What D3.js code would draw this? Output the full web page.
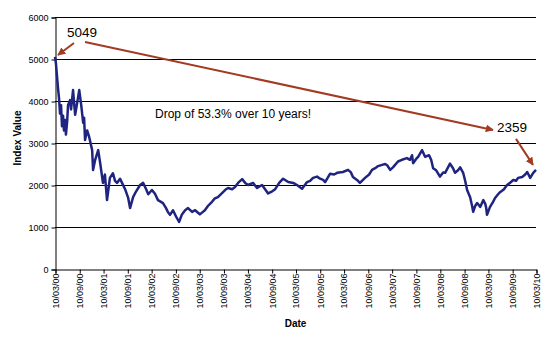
<!DOCTYPE html>
<html><head><meta charset="utf-8">
<script src="https://cdn.jsdelivr.net/npm/d3@7"></script>
<style>body{margin:0;background:#fff}svg{display:block}text{font-family:Arial,"Liberation Sans",sans-serif}</style>
</head><body><svg id="c" width="553" height="341"></svg>
<script>
const dates = ["2000-03-10","2000-03-17","2000-03-25","2000-04-02","2000-04-10","2000-04-17","2000-04-25","2000-05-02","2000-05-10","2000-05-17","2000-05-25","2000-06-01","2000-06-10","2000-06-17","2000-07-02","2000-07-10","2000-07-25","2000-08-10","2000-08-25","2000-09-10","2000-09-25","2000-10-10","2000-10-17","2000-10-24","2000-11-09","2000-11-24","2000-12-17","2000-12-24","2001-01-09","2001-02-01","2001-02-17","2001-03-09","2001-03-24","2001-04-09","2001-05-01","2001-05-24","2001-06-09","2001-06-24","2001-07-17","2001-08-01","2001-08-24","2001-09-16","2001-10-01","2001-10-24","2001-11-16","2001-12-16","2002-01-08","2002-01-31","2002-02-16","2002-03-16","2002-04-08","2002-05-01","2002-06-08","2002-07-01","2002-07-16","2002-07-31","2002-08-23","2002-09-15","2002-10-08","2002-10-30","2002-11-23","2002-12-15","2003-01-15","2003-02-07","2003-03-01","2003-03-15","2003-04-07","2003-04-22","2003-05-15","2003-06-15","2003-07-07","2003-07-30","2003-09-07","2003-09-30","2003-10-15","2003-11-15","2003-12-07","2003-12-30","2004-01-30","2004-02-22","2004-03-15","2004-04-22","2004-05-22","2004-06-29","2004-07-22","2004-08-14","2004-09-14","2004-10-07","2004-11-06","2004-12-06","2005-01-14","2005-02-21","2005-03-21","2005-04-29","2005-06-06","2005-06-29","2005-07-21","2005-08-21","2005-09-13","2005-10-06","2005-10-21","2005-11-28","2005-12-28","2006-01-20","2006-03-05","2006-04-13","2006-05-05","2006-05-20","2006-06-20","2006-07-12","2006-08-20","2006-09-20","2006-10-12","2006-11-05","2006-11-27","2006-12-27","2007-01-20","2007-02-04","2007-02-27","2007-03-20","2007-04-27","2007-05-27","2007-07-04","2007-07-27","2007-08-12","2007-08-20","2007-09-12","2007-09-27","2007-10-27","2007-11-19","2007-12-19","2008-01-04","2008-01-19","2008-02-11","2008-03-11","2008-04-04","2008-04-19","2008-05-11","2008-05-26","2008-06-18","2008-07-03","2008-07-26","2008-08-11","2008-09-03","2008-09-18","2008-10-03","2008-10-26","2008-11-11","2008-11-18","2008-12-03","2008-12-18","2009-01-11","2009-02-03","2009-02-18","2009-02-25","2009-03-03","2009-03-26","2009-04-18","2009-05-03","2009-05-26","2009-06-10","2009-07-10","2009-08-02","2009-08-25","2009-09-18","2009-10-10","2009-10-25","2009-11-25","2009-12-18","2010-01-02","2010-01-25","2010-02-17","2010-03-10"];
const values = [5049,4900,4600,4300,4050,3700,3900,3400,3650,3300,3550,3200,3500,3900,4020,3800,4260,3670,3950,4260,3900,3480,3600,3070,3300,3150,2830,2360,2600,2830,2500,2050,2250,1640,2170,2280,2100,2050,2150,2050,1900,1700,1450,1710,1850,2000,2050,1900,1780,1880,1790,1640,1570,1450,1350,1290,1400,1250,1120,1300,1400,1450,1360,1400,1340,1300,1360,1400,1500,1600,1680,1710,1830,1900,1930,1900,1950,2050,2140,2050,2000,2050,1930,2000,1900,1800,1850,1900,2050,2150,2070,2050,2000,1910,2070,2100,2170,2200,2150,2120,2070,2270,2250,2290,2310,2360,2300,2190,2120,2050,2170,2250,2360,2400,2450,2480,2500,2470,2360,2420,2560,2600,2640,2600,2710,2520,2620,2670,2830,2670,2710,2600,2400,2350,2200,2300,2290,2420,2510,2400,2290,2350,2420,2290,2100,1880,1710,1480,1360,1500,1570,1480,1640,1550,1450,1290,1480,1600,1690,1780,1830,1900,2000,2050,2120,2100,2170,2190,2250,2310,2170,2290,2359];
const tickLabels = ["10/03/00","10/09/00","10/03/01","10/09/01","10/03/02","10/09/02","10/03/03","10/09/03","10/03/04","10/09/04","10/03/05","10/09/05","10/03/06","10/09/06","10/03/07","10/09/07","10/03/08","10/09/08","10/03/09","10/09/09","10/03/10"];
const yTicks = [0,1000,2000,3000,4000,5000,6000];
const startLabel = "5049", endLabel = "2359", note = "Drop of 53.3% over 10 years!";

const svg = d3.select("#c");
const L=55,R=536,T=17,B=269;
const parse = d3.timeParse("%Y-%m-%d");
const tickParse = d3.timeParse("%d/%m/%y");
const tickDates = tickLabels.map(tickParse);
const x = d3.scaleTime().domain([tickDates[0], tickDates[tickDates.length-1]]).range([L,R]);
const y = d3.scaleLinear().domain([0,6000]).range([B,T]);

// gridlines
svg.append("g").selectAll("line").data(yTicks.filter(d=>d>0)).join("line")
  .attr("x1",L).attr("x2",R).attr("y1",d=>y(d)+0.5).attr("y2",d=>y(d)+0.5)
  .attr("stroke","#000").attr("stroke-width",1);

// y axis
const ya = svg.append("g").attr("transform",`translate(${L+0.5},0.5)`)
  .call(d3.axisLeft(y).tickValues(yTicks).tickSize(4).tickPadding(3).tickFormat(d3.format("d")));
ya.select(".domain").attr("stroke","#000");
ya.selectAll("text").attr("font-size",9).attr("fill","#000").style("font-family","Arial,'Liberation Sans',sans-serif");

// x axis
const xa = svg.append("g").attr("transform",`translate(0.5,${B+0.5})`)
  .call(d3.axisBottom(x).tickValues(tickDates).tickSize(4).tickFormat((d,i)=>tickLabels[i]));
xa.select(".domain").attr("stroke","#000");
xa.selectAll("text").attr("font-size",9).attr("fill","#000").style("font-family","Arial,'Liberation Sans',sans-serif")
  .attr("transform","rotate(-90)").attr("text-anchor","end").attr("x",-4).attr("y",0).attr("dy","0.32em");

// line
const data = dates.map((d,i)=>({d:parse(d),v:values[i]}));
svg.append("path").datum(data).attr("fill","none").attr("stroke","#1F2480").attr("stroke-width",2.5)
  .attr("stroke-linejoin","round")
  .attr("d",d3.line().x(p=>x(p.d)).y(p=>y(p.v)));

// axis titles
svg.append("text").attr("x",(L+R)/2).attr("y",327).attr("text-anchor","middle")
  .attr("font-size",10).attr("font-weight","bold").text("Date");
svg.append("text").attr("transform","translate(21,138) rotate(-90)").attr("text-anchor","middle")
  .attr("font-size",10).attr("font-weight","bold").text("Index Value");

// annotations
const arrowCol="#A33A22";
const defs=svg.append("defs");
defs.append("marker").attr("id","ah").attr("viewBox","0 0 10 10").attr("refX",9).attr("refY",5)
  .attr("markerWidth",4).attr("markerHeight",4).attr("orient","auto")
  .append("path").attr("d","M0,0 L10,5 L0,10 z").attr("fill",arrowCol);
const first=data[0], last=data[data.length-1];
function arrow(x1,y1,x2,y2){
  svg.append("line").attr("x1",x1).attr("y1",y1).attr("x2",x2).attr("y2",y2)
    .attr("stroke",arrowCol).attr("stroke-width",2).attr("marker-end","url(#ah)");
}
arrow(x(first.d)+19, y(first.v)-14, x(first.d)+3, y(first.v)-2);
arrow(x(first.d)+30, y(first.v)-15, x(last.d)-43, y(last.v)-40);
arrow(x(last.d)-20, y(last.v)-31, x(last.d)-3, y(last.v)-5);
svg.append("text").attr("x",x(first.d)+12).attr("y",37).attr("font-size",13.5).text(startLabel);
svg.append("text").attr("x",x(last.d)-39).attr("y",132).attr("font-size",13.5).text(endLabel);
svg.append("text").attr("x",155).attr("y",118).attr("font-size",12).text(note);
</script></body></html>
